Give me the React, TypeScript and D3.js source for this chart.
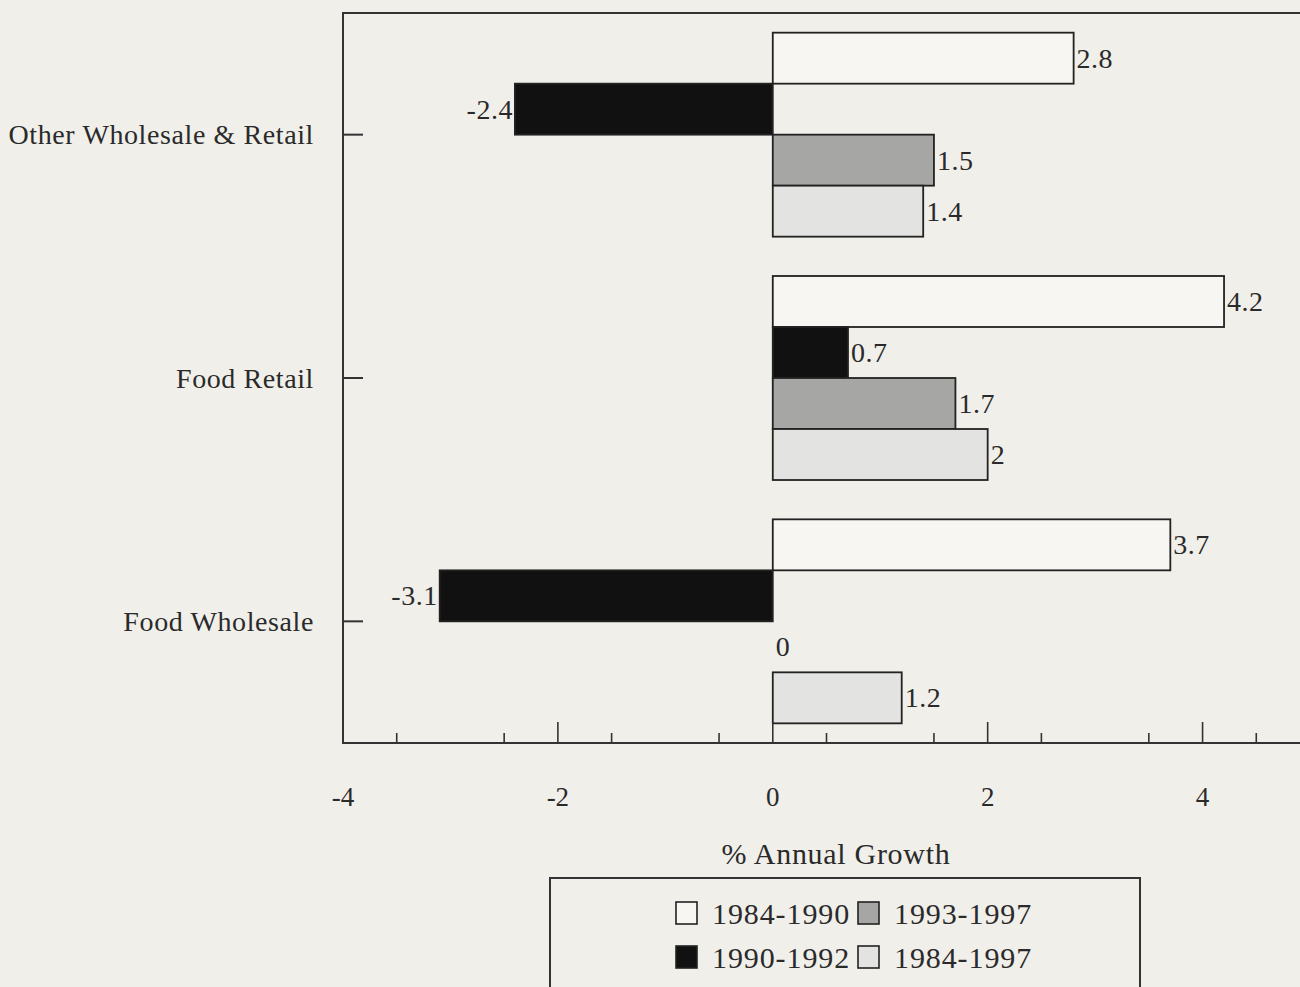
import React from "react";
import * as d3 from "d3";

const categories = ["Other Wholesale & Retail", "Food Retail", "Food Wholesale"];
const periods = ["1984-1990", "1990-1992", "1993-1997", "1984-1997"];
const growthOther = [2.8, -2.4, 1.5, 1.4];
const growthFoodRetail = [4.2, 0.7, 1.7, 2];
const growthFoodWholesale = [3.7, -3.1, 0, 1.2];
const majorTicks = [-4, -2, 0, 2, 4];
const minorTicks = [-3.5, -2.5, -1.5, -0.5, 0.5, 1.5, 2.5, 3.5, 4.5];
const periodFills = ["#f7f6f3", "#111111", "#a6a6a4", "#e3e3e1"];

const W = 1300;
const H = 987;
const FONT = "'Liberation Serif', 'Times New Roman', serif";
const INK = "#2a2a2a";

export default function App() {
  const rows = [growthOther, growthFoodRetail, growthFoodWholesale];
  const frame = { left: 343, top: 13, right: 1310, bottom: 743 };

  const x = d3.scaleLinear().domain([-4, 5]).range([frame.left, frame.right]);
  const y = d3.scaleBand<string>().domain(categories).range([frame.top, frame.bottom]).padding(0);
  const inner = d3.scaleBand<string>().domain(periods).range([-102, 102]).padding(0);

  const legendCols = [676, 858];
  const legendRows = [913, 957];

  return (
    <svg
      width={W}
      height={H}
      style={{ position: "absolute", left: 0, top: 0, fontFamily: FONT }}
    >
      <rect x={0} y={0} width={W} height={H} fill="#f0efea" />

      {/* bars */}
      {categories.map((cat, ci) => {
        const cy = (y(cat) ?? 0) + y.bandwidth() / 2;
        return (
          <g key={cat}>
            {rows[ci].map((v, pi) => {
              const top = cy + (inner(periods[pi]) ?? 0);
              const x0 = x(Math.min(0, v));
              const x1 = x(Math.max(0, v));
              return (
                <g key={pi}>
                  {v !== 0 && (
                    <rect
                      x={x0}
                      y={top}
                      width={x1 - x0}
                      height={inner.bandwidth()}
                      fill={periodFills[pi]}
                      stroke="#222"
                      strokeWidth={1.8}
                    />
                  )}
                  <text
                    x={v < 0 ? x(v) - 2 : x(v) + 3}
                    y={top + inner.bandwidth() / 2}
                    textAnchor={v < 0 ? "end" : "start"}
                    dominantBaseline="central"
                    fontSize={28}
                    letterSpacing={0.5}
                    fill={INK}
                  >
                    {String(v)}
                  </text>
                </g>
              );
            })}
          </g>
        );
      })}

      {/* frame */}
      <rect
        x={frame.left}
        y={frame.top}
        width={frame.right - frame.left}
        height={frame.bottom - frame.top}
        fill="none"
        stroke="#333"
        strokeWidth={2}
      />

      {/* category ticks and labels */}
      {categories.map((cat) => {
        const cy = (y(cat) ?? 0) + y.bandwidth() / 2;
        return (
          <g key={cat}>
            <line x1={frame.left} x2={frame.left + 20} y1={cy} y2={cy} stroke="#333" strokeWidth={2} />
            <text x={314} y={cy} textAnchor="end" dominantBaseline="central" fontSize={28} letterSpacing={0.6} fill={INK}>
              {cat}
            </text>
          </g>
        );
      })}

      {/* x ticks */}
      {majorTicks.filter((t) => t > -4).map((t) => (
        <line key={"M" + t} x1={x(t)} x2={x(t)} y1={frame.bottom} y2={frame.bottom - 21} stroke="#333" strokeWidth={1.6} />
      ))}
      {minorTicks.map((t) => (
        <line key={"m" + t} x1={x(t)} x2={x(t)} y1={frame.bottom} y2={frame.bottom - 10} stroke="#333" strokeWidth={1.6} />
      ))}
      {majorTicks.map((t) => (
        <text key={"l" + t} x={x(t)} y={797} textAnchor="middle" dominantBaseline="central" fontSize={27} fill={INK}>
          {String(t)}
        </text>
      ))}

      <text x={836} y={853} textAnchor="middle" dominantBaseline="central" fontSize={30} letterSpacing={0.7} fill={INK}>
        % Annual Growth
      </text>

      {/* legend */}
      <rect x={550} y={878} width={590} height={140} fill="none" stroke="#333" strokeWidth={2} />
      {periods.map((p, i) => {
        const col = i < 2 ? 0 : 1;
        const row = i % 2;
        const lx = legendCols[col];
        const ly = legendRows[row];
        return (
          <g key={p}>
            <rect x={lx} y={ly - 11} width={21} height={22} fill={periodFills[i]} stroke="#222" strokeWidth={1.6} />
            <text x={lx + 36} y={ly} dominantBaseline="central" fontSize={30} letterSpacing={0.9} fill={INK}>
              {p}
            </text>
          </g>
        );
      })}
    </svg>
  );
}
